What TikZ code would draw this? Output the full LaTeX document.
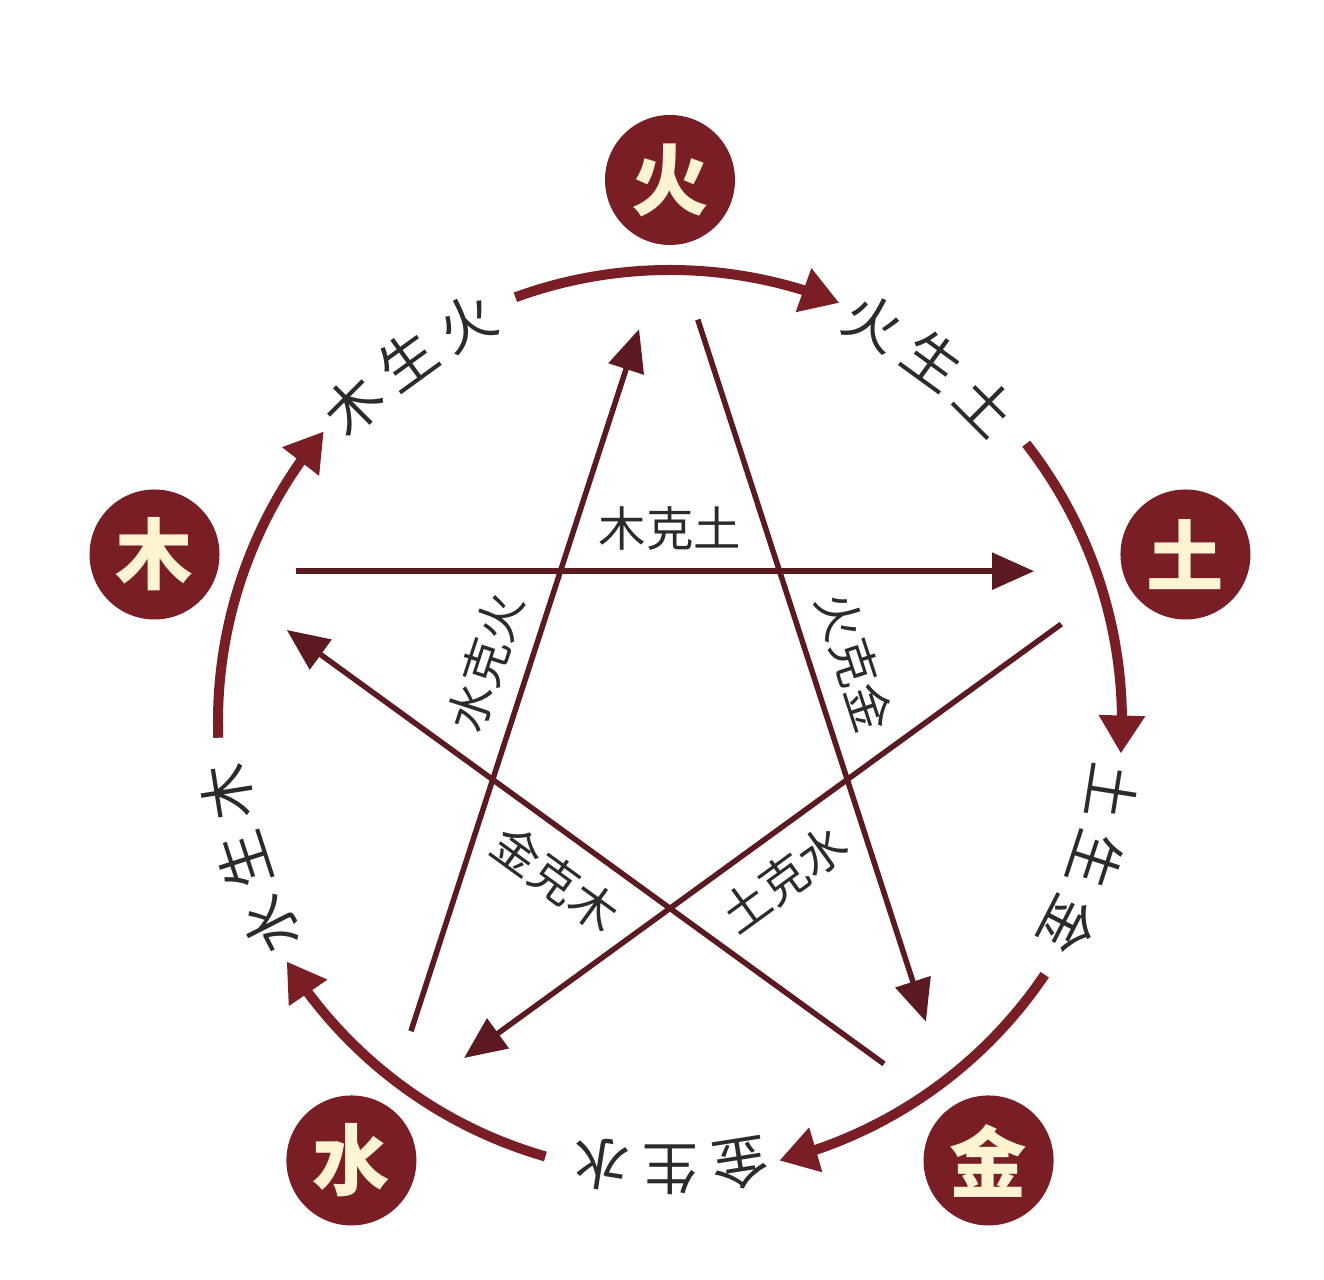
\documentclass[tikz,border=0pt]{standalone}
\usepackage{fontspec}
\newfontfamily\cjk{Noto Sans CJK SC}
\usetikzlibrary{arrows.meta,bending}
\definecolor{wxred}{HTML}{7A1E25}
\definecolor{wxdark}{HTML}{5A1A20}
\definecolor{wxcream}{HTML}{FFF4D2}
\definecolor{wxtext}{HTML}{2B2B2B}
\begin{document}
\begin{tikzpicture}[
    element/.style={circle, fill=wxred, text=wxcream, minimum size=1.3cm, inner sep=0pt,
      font=\cjk\bfseries\fontsize{22}{22}\selectfont},
    shengchar/.style={text=wxtext, inner sep=0pt, font=\cjk\fontsize{16}{16}\selectfont},
    shengarc/.style={draw=wxred, line width=1mm, -{Triangle[length=3.8mm,width=4.4mm]}},
    keline/.style={draw=wxdark, line width=0.55mm, -{Triangle[length=4.2mm,width=3.6mm]},
      shorten <=0.9cm, shorten >=1cm},
    kelabel/.style={text=wxtext, inner sep=1pt, font=\cjk\fontsize{13.5}{13.5}\selectfont}
  ]
      \useasboundingbox (-6.70,-5.58) rectangle (6.54,7.22);
      \draw
        (90:5.42) node[element] (huo){火}
        (18:5.42) node[element] (tu){土}
        (-54:5.42) node[element] (jin){金}
        (-126:5.42) node[element] (shui){水}
        (162:5.42) node[element] (mu){木};
      \draw
        (135:4.48) node[shengchar, rotate=45] (mh1){木}
        (126:4.48) node[shengchar, rotate=36] (mh2){生}
        (117:4.48) node[shengchar, rotate=27] (mh3){火}
        (63:4.48) node[shengchar, rotate=-27] (ht1){火}
        (54:4.48) node[shengchar, rotate=-36] (ht2){生}
        (45:4.48) node[shengchar, rotate=-45] (ht3){土}
        (-9:4.48) node[shengchar, rotate=-99] (tj1){土}
        (-18:4.48) node[shengchar, rotate=-108] (tj2){生}
        (-27:4.48) node[shengchar, rotate=-117] (tj3){金}
        (-81:4.48) node[shengchar, rotate=-171] (js1){金}
        (-90:4.48) node[shengchar, rotate=-180] (js2){生}
        (-99:4.48) node[shengchar, rotate=-189] (js3){水}
        (-153:4.48) node[shengchar, rotate=-243] (sm1){水}
        (-162:4.48) node[shengchar, rotate=-252] (sm2){生}
        (-171:4.48) node[shengchar, rotate=-261] (sm3){木};
      \coordinate (a1) at (110:4.52);
      \coordinate (a2) at (38:4.52);
      \coordinate (a3) at (-34:4.52);
      \coordinate (a4) at (-106:4.52);
      \coordinate (a5) at (-178:4.52);
      \draw[shengarc] (a1) arc[start angle=110, end angle=68, radius=4.52];
      \draw[shengarc] (a2) arc[start angle=38, end angle=-4, radius=4.52];
      \draw[shengarc] (a3) arc[start angle=-34, end angle=-76, radius=4.52];
      \draw[shengarc] (a4) arc[start angle=-106, end angle=-148, radius=4.52];
      \draw[shengarc] (a5) arc[start angle=-178, end angle=-220, radius=4.52];
      \coordinate (shuo) at (90:4.88);
      \coordinate (stu) at (18:4.88);
      \coordinate (sjin) at (-54:4.88);
      \coordinate (sshui) at (-126:4.88);
      \coordinate (smu) at (162:4.88);
      \begin{scope}[kelabel/.append style={midway}]
        \draw[keline] (smu) -- node[kelabel, above=1.5mm] (muke){木克土} (stu);
        \draw[keline] (stu) -- node[kelabel, sloped, below=1.5mm] (tuke){土克水} (sshui);
        \draw[keline] (sshui) -- node[kelabel, sloped, above=1.5mm] (shuike){水克火} (shuo);
        \draw[keline] (shuo) -- node[kelabel, sloped, above=1.5mm] (huoke){火克金} (sjin);
        \draw[keline] (sjin) -- node[kelabel, sloped, below=1.5mm] (jinke){金克木} (smu);
      \end{scope}
    \end{tikzpicture}
\end{document}
